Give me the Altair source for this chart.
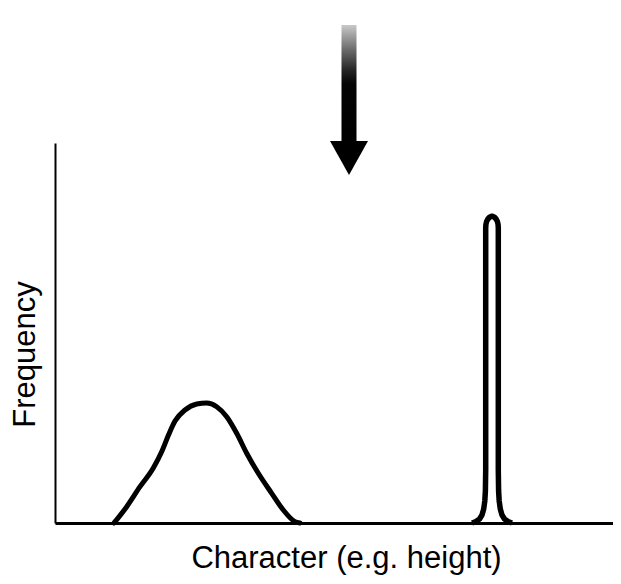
import altair as alt
import pandas as pd

# Broad, normal-like distribution (character value, frequency)
bell_x = [59, 71.7, 85, 98.3, 107, 113.5, 120, 130, 141.7, 151.7, 161.7, 171.7,
          181.7, 191.7, 203.3, 216.7, 228.3, 240, 245]
bell_y = [0, 16.3, 36.3, 55, 72, 88, 102, 113, 119, 120, 116.3, 106.3,
          89.7, 69.7, 49.7, 29.7, 13, 1.3, 0]

# Narrow, tall distribution
spike_x = [417, 421, 424.5, 427, 428.7, 429.8, 430.4, 430.7,
           430.7, 430.9, 431.6, 432.9, 434.8, 437, 439.2, 441.1, 442.4, 443.1, 443.3,
           443.3, 443.6, 444.2, 445.3, 447, 449.5, 453, 457]
spike_y = [0, 1.5, 4, 8, 14, 22, 32, 53,
           295, 298.5, 301.5, 304, 306, 306.8, 306, 304, 301.5, 298.5, 295,
           53, 32, 22, 14, 8, 4, 1.5, 0]

# Arrow marking a character value (shaft and head)
arrow_x = 294
arrow_shaft_top = 498
arrow_shaft_bottom = 381
arrow_head_top = 382
arrow_head_tip = 348
arrow_shaft_half = 7.5
arrow_head_half = 19

x_title = "Character (e.g. height)"
y_title = "Frequency"

bell = pd.DataFrame({"x": bell_x, "y": bell_y, "o": list(range(len(bell_x)))})
spike = pd.DataFrame({"x": spike_x, "y": spike_y, "o": list(range(len(spike_x)))})
shaft = pd.DataFrame({"x": [arrow_x - arrow_shaft_half], "x2": [arrow_x + arrow_shaft_half],
                      "y": [arrow_shaft_top], "y2": [arrow_shaft_bottom]})
head = pd.DataFrame({"x": [arrow_x - arrow_head_half, arrow_x, arrow_x + arrow_head_half],
                     "y": [arrow_head_top] * 3,
                     "y2": [arrow_head_top, arrow_head_tip, arrow_head_top]})

FONT = "Liberation Sans"

xs = alt.Scale(domain=[0, 558], nice=False, zero=False)
ys = alt.Scale(domain=[0, 380], nice=False, zero=False)

xaxis = alt.Axis(title=x_title, domain=True, domainColor="black", domainWidth=3,
                 ticks=False, labels=False, grid=False, titleFont=FONT,
                 titleFontSize=31, titleFontWeight="normal", titleColor="black",
                 titleBaseline="alphabetic", titleX=291, titleY=44)
yaxis = alt.Axis(title=y_title, domain=True, domainColor="black", domainWidth=2,
                 ticks=False, labels=False, grid=False, titleFont=FONT,
                 titleFontSize=31, titleFontWeight="normal", titleColor="black",
                 titleBaseline="alphabetic", titleX=-21, titleY=211, titleAngle=-90)

bell_line = alt.Chart(bell).mark_line(
    color="black", strokeWidth=5, interpolate="monotone", strokeCap="round", clip=False
).encode(
    x=alt.X("x:Q", scale=xs, axis=xaxis),
    y=alt.Y("y:Q", scale=ys, axis=yaxis),
    order="o:Q",
)

spike_line = alt.Chart(spike).mark_line(
    color="black", strokeWidth=5.5, interpolate="linear", strokeJoin="round", clip=False
).encode(
    x=alt.X("x:Q", scale=xs),
    y=alt.Y("y:Q", scale=ys),
    order="o:Q",
)

shaft_bar = alt.Chart(shaft).mark_bar(
    clip=False,
    color=alt.Gradient(
        gradient="linear", x1=0, y1=0, x2=0, y2=1,
        stops=[alt.GradientStop(offset=0, color="#c8c8c8"),
               alt.GradientStop(offset=0.2, color="#707070"),
               alt.GradientStop(offset=0.4, color="#202020"),
               alt.GradientStop(offset=0.5, color="#050505"),
               alt.GradientStop(offset=1, color="#000000")],
    ),
).encode(
    x=alt.X("x:Q", scale=xs), x2="x2:Q",
    y=alt.Y("y:Q", scale=ys), y2="y2:Q",
)

head_area = alt.Chart(head).mark_area(color="black", clip=False, opacity=1).encode(
    x=alt.X("x:Q", scale=xs),
    y=alt.Y("y:Q", scale=ys), y2="y2:Q",
)

chart = alt.layer(bell_line, spike_line, shaft_bar, head_area).properties(
    width=558, height=380,
    padding={"left": 47, "top": 135, "right": 0, "bottom": 58},
    autosize=alt.AutoSizeParams(type="none"),
    background="white",
).configure_view(stroke=None)

chart.save("out.html", embed_options={"renderer": "svg", "actions": False})
